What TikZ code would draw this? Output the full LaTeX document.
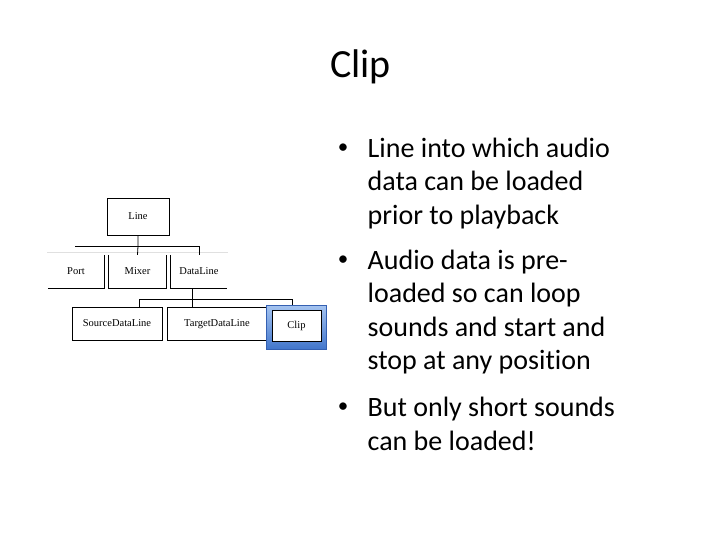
\documentclass[tikz,border=0pt]{standalone}
\usepackage{fontspec}
\setmainfont{Carlito}[Ligatures=NoCommon]
\newfontfamily\diagfont{Liberation Serif}
\definecolor{frameTop}{RGB}{165,196,240}
\definecolor{frameBot}{RGB}{66,118,204}
\definecolor{frameLine}{RGB}{52,96,178}
\begin{document}
\begin{tikzpicture}[x=1pt,y=-1pt,
  lbl/.style={inner sep=0pt,text height=7.5pt,text depth=2pt,font=\diagfont\fontsize{10.5}{12}\selectfont},
  body/.style={anchor=base west,inner sep=0pt,font=\fontsize{28}{33}\selectfont},
  bul/.style={anchor=base,inner sep=0pt,font=\fontsize{21}{25}\selectfont},
  wire/.style={line width=0.8pt,black},
  faint/.style={line width=0.6pt,black!12}]
\useasboundingbox[fill=white] (0,0) rectangle (720,540);

% title
\node[anchor=base,inner sep=0pt,font=\fontsize{40}{48}\selectfont] (title) at (360.5,78) {Clip};

% bullets
\node[bul] (b1) at (343,153.5) {•};
\node[body] (t1) at (367.5,157.7) {Line into which audio};
\node[body] (t2) at (367.5,191) {data can be loaded};
\node[body] (t3) at (367.5,224.5) {prior to playback};
\node[bul] (b2) at (343,265.1) {•};
\node[body] (t4) at (367.5,269.3) {Audio data is pre-};
\node[body] (t5) at (367.5,302.7) {loaded so can loop};
\node[body] (t6) at (367.5,336) {sounds and start and};
\node[body] (t7) at (367.5,369.3) {stop at any position};
\node[bul] (b3) at (343,412.5) {•};
\node[body] (t8) at (367.5,416.7) {But only short sounds};
\node[body] (t9) at (367.5,450) {can be loaded!};

% diagram: top box
\node[lbl,draw,line width=0.8pt,minimum width=62pt,minimum height=37pt] (line) at (138,216.5) {Line};

% row 2 (open-top boxes)
\draw[faint] (47,252) -- (228,252);
\node[lbl,minimum width=56pt,minimum height=33pt] (port) at (76,271.5) {Port};
\node[lbl,minimum width=57pt,minimum height=33pt] (mixer) at (137.5,271.5) {Mixer};
\node[lbl,minimum width=56pt,minimum height=33pt] (dataline) at (199,271.5) {DataLine};
\draw[wire] (port.south west) -- (port.south east) -- (port.north east);
\draw[wire] (mixer.north west) -- (mixer.south west) -- (mixer.south east) -- (mixer.north east);
\draw[wire] (dataline.north west) -- (dataline.south west) -- (dataline.south east);

% bus 1
\coordinate (busL) at (75,246);
\coordinate (busR) at (199,246);
\draw[wire] (busL) -- (busR);
\draw[wire] (line.south) -- (line.south |- busL) -- (mixer.north);
\draw[wire] (busR) -- (dataline.north);

% row 3
\node[lbl,draw,line width=0.8pt,minimum width=90pt,minimum height=33pt] (source) at (117,323.5) {SourceDataLine};
\node[lbl,draw,line width=0.8pt,minimum width=100pt,minimum height=33pt] (target) at (217,323.5) {TargetDataLine};

% Clip highlighted frame
\coordinate (clipNW) at (266.5,305);
\coordinate (clipSE) at (326,349);
\shade[top color=frameTop,bottom color=frameBot,draw=frameLine,line width=1pt]
  (clipNW) rectangle (clipSE);
\node[lbl,draw,fill=white,line width=0.6pt,minimum width=49pt,minimum height=31.5pt] (clip) at (296.5,325.8) {Clip};

% bus 2
\coordinate (bus2a) at (139,299);
\coordinate (bus2b) at (192.5,299);
\coordinate (bus2c) at (292,299);
\draw[wire] (dataline.south -| bus2b) -- (bus2b);
\draw[wire] (bus2a) -- (bus2c);
\draw[wire] (bus2a) -- (bus2a |- source.north);
\draw[wire] (bus2b) -- (bus2b |- target.north);
\draw[wire] (bus2c) -- (bus2c |- clipNW);
\end{tikzpicture}
\end{document}
